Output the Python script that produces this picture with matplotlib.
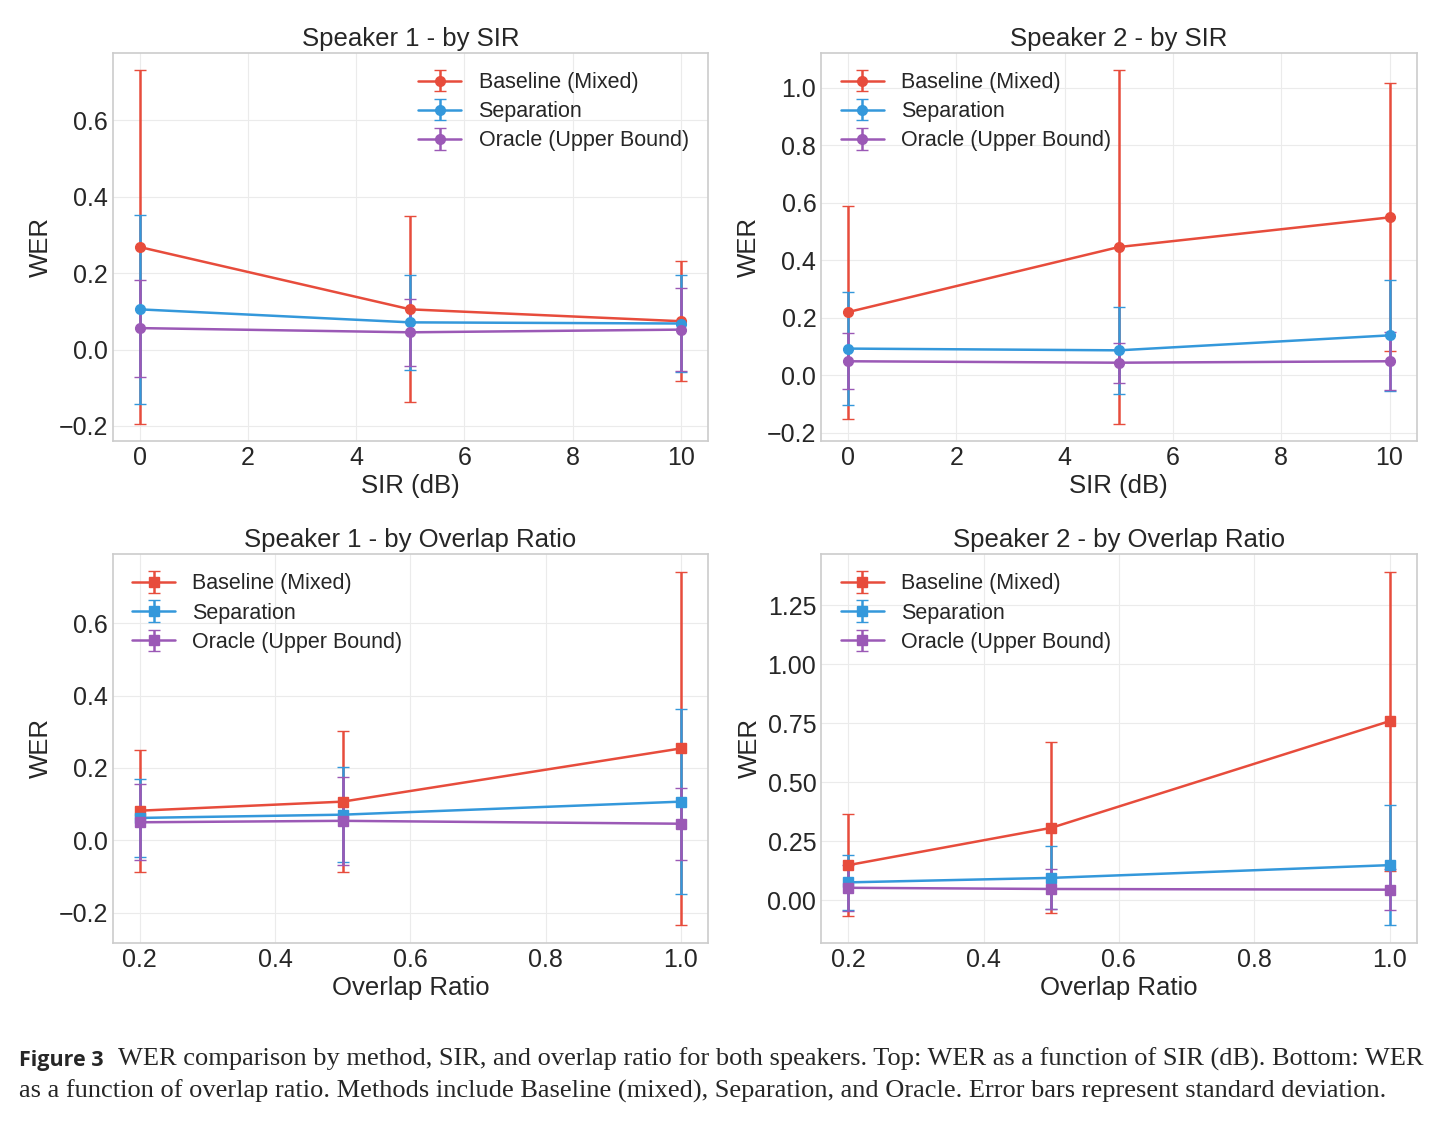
import matplotlib
matplotlib.use("Agg")
import matplotlib.pyplot as plt
import numpy as np

plt.style.use("seaborn-v0_8-whitegrid")
plt.rcParams["font.family"] = ["Liberation Sans", "DejaVu Sans"]

methods = ["Baseline (Mixed)", "Separation", "Oracle (Upper Bound)"]
colors = ["#e74c3c", "#3498db", "#9b59b6"]

sir = [0, 5, 10]
overlap = [0.2, 0.5, 1.0]

# Speaker 1 - by SIR (mean, std) per method
s1_sir_mean = [[0.268, 0.105, 0.074], [0.105, 0.071, 0.068], [0.056, 0.045, 0.052]]
s1_sir_std = [[0.462, 0.243, 0.157], [0.248, 0.125, 0.128], [0.127, 0.087, 0.108]]

# Speaker 2 - by SIR
s2_sir_mean = [[0.220, 0.446, 0.549], [0.093, 0.087, 0.139], [0.049, 0.044, 0.049]]
s2_sir_std = [[0.370, 0.614, 0.466], [0.196, 0.152, 0.194], [0.098, 0.069, 0.101]]

# Speaker 1 - by overlap ratio
s1_ov_mean = [[0.082, 0.107, 0.254], [0.062, 0.071, 0.107], [0.050, 0.054, 0.046]]
s1_ov_std = [[0.168, 0.194, 0.488], [0.107, 0.131, 0.255], [0.105, 0.121, 0.100]]

# Speaker 2 - by overlap ratio
s2_ov_mean = [[0.148, 0.306, 0.758], [0.075, 0.094, 0.148], [0.052, 0.047, 0.044]]
s2_ov_std = [[0.216, 0.362, 0.633], [0.115, 0.133, 0.254], [0.097, 0.085, 0.086]]

fig, axes = plt.subplots(2, 2, figsize=(14.44, 11.21), dpi=100)
fig.subplots_adjust(left=0.078, right=0.981, top=0.953, bottom=0.159,
                    wspace=0.19, hspace=0.29)

panels = [
    (axes[0, 0], sir, s1_sir_mean, s1_sir_std, "o", "Speaker 1 - by SIR", "SIR (dB)", "upper right"),
    (axes[0, 1], sir, s2_sir_mean, s2_sir_std, "o", "Speaker 2 - by SIR", "SIR (dB)", "upper left"),
    (axes[1, 0], overlap, s1_ov_mean, s1_ov_std, "s", "Speaker 1 - by Overlap Ratio", "Overlap Ratio", "upper left"),
    (axes[1, 1], overlap, s2_ov_mean, s2_ov_std, "s", "Speaker 2 - by Overlap Ratio", "Overlap Ratio", "upper left"),
]

for ax, xs, means, stds, mk, title, xlabel, loc in panels:
    for m, c, mu, sd in zip(methods, colors, means, stds):
        ax.errorbar(xs, mu, yerr=sd, label=m, color=c, marker=mk,
                    markersize=7, linewidth=1.8, capsize=4, elinewidth=1.8)
    ax.set_title(title, fontsize=18.5, pad=5)
    ax.set_xlabel(xlabel, fontsize=18.5, labelpad=3)
    ax.set_ylabel("WER", fontsize=18.5)
    ax.tick_params(labelsize=18)
    ax.legend(loc=loc, fontsize=15.5, frameon=False, labelspacing=0.38)
    ax.grid(True, color="#ebebeb")
    for sp in ax.spines.values():
        sp.set_visible(True)
        sp.set_color("#cccccc")
        sp.set_linewidth(1.2)

fig.text(0.013, 0.049, "Figure 3", fontsize=15.5, fontweight="bold",
         family=["Open Sans", "DejaVu Sans"], va="baseline")
fig.text(0.0817, 0.049,
         "WER comparison by method, SIR, and overlap ratio for both speakers. Top: WER as a function of SIR (dB). Bottom: WER",
         fontsize=19, family=["Liberation Serif"], va="baseline")
fig.text(0.013, 0.0205,
         "as a function of overlap ratio. Methods include Baseline (mixed), Separation, and Oracle. Error bars represent standard deviation.",
         fontsize=19, family=["Liberation Serif"], va="baseline")

fig.savefig("out.png", dpi=100, facecolor="white")
